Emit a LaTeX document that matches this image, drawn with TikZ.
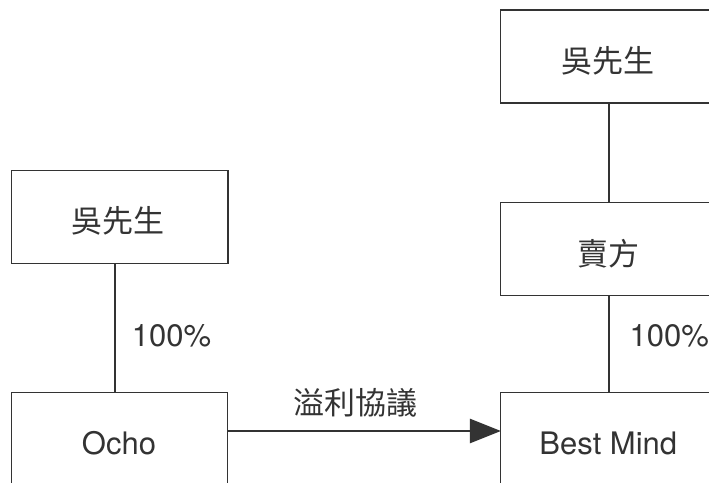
\documentclass[tikz,border=0pt]{standalone}
\usepackage{fontspec}
\setmainfont{TeX Gyre Heros}
\newfontfamily\cjk{Noto Sans CJK TC}
\usetikzlibrary{arrows.meta}
\definecolor{ink}{HTML}{333333}
\begin{document}
\begin{tikzpicture}[x=1pt,y=-1pt,
  boxst/.style={draw=ink,line width=1.2pt,minimum width=216.5pt,minimum height=93pt,inner sep=0pt,outer sep=0pt},
  txt/.style={text=ink,font=\fontsize{31}{31}\selectfont,inner sep=0pt},
  ctxt/.style={text=ink,font=\cjk\fontsize{31}{31}\selectfont,inner sep=0pt},
  conn/.style={draw=ink,line width=1.2pt}]
\useasboundingbox (0,0) rectangle (709,482);
% boxes
\node[boxst] (lboss) at (119.8,216.9) {};
\node[boxst] (ocho) at (119.5,439.2) {};
\node[boxst] (rboss) at (609,56.5) {};
\node[boxst] (seller) at (609,249) {};
\node[boxst] (best) at (609,439.2) {};
% texts
\node[ctxt] (t1) at (118.3,220.8) {吳先生};
\node[ctxt] (t2) at (608.3,60.8) {吳先生};
\node[ctxt] (t3) at (608.3,254) {賣方};
\node[txt,anchor=base] (t4) at (119,454) {Ocho};
\node[txt,anchor=base] (t5) at (608.3,454) {Best Mind};
\node[txt,anchor=base west] (p1) at (131.7,346.5) {100\%};
\node[txt,anchor=base west] (p2) at (629.5,346.5) {100\%};
\node[ctxt] (agr) at (355,402.5) {溢利協議};
% connectors
\coordinate (lc1) at (115,263.4);
\coordinate (lc2) at (115,392.7);
\draw[conn] (lc1) -- (lc2);
\draw[conn] (rboss.south) -- (seller.north);
\draw[conn] (seller.south) -- (best.north);
\coordinate (a1) at (227.3,431);
\coordinate (a2) at (500.8,431);
\draw[conn,-{Triangle[length=31pt,width=24.5pt]}] (a1) -- (a2);
\end{tikzpicture}
\end{document}
